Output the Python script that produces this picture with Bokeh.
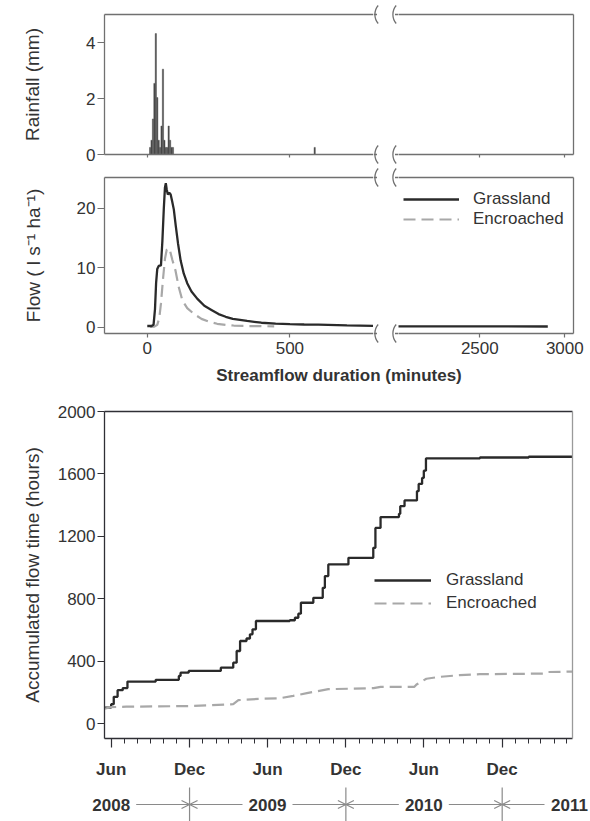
import numpy as np
from bokeh.plotting import figure
from bokeh.layouts import column, row
from bokeh.models import (Range1d, LinearAxis, DatetimeAxis, FixedTicker, Legend, LegendItem,
                          DatetimeTickFormatter, Arrow, OpenHead)
from bokeh.embed import file_html
from bokeh.resources import INLINE
from bokeh.core.properties import value

# ---------------- data ----------------
rain_minutes = [10, 15, 20, 25, 30, 35, 40, 45, 50, 55, 60, 65, 70, 75, 80, 85, 90, 587]
rain_mm = [0.254, 0.508, 1.27, 2.54, 4.318, 2.032, 0.508, 0.254, 1.016, 3.048, 0.508,
           0.254, 0.254, 1.016, 0.508, 0.254, 0.254, 0.254]

grass_minutes = [0, 15, 22, 27, 31, 35, 40, 48, 53, 58, 62, 65, 68, 72, 77, 82, 87, 93, 100,
                 108, 117, 128, 140, 155, 175, 200, 225, 250, 275, 300, 350, 400, 450, 500,
                 550, 600, 700, 800, 2000, 2900]
grass_flow = [0.2, 0.2, 0.4, 3.0, 7.5, 9.8, 10.3, 10.4, 14.5, 20.0, 23.5, 24.2, 23.2, 22.3,
              22.6, 22.3, 21.2, 19.8, 17.0, 14.0, 11.2, 9.0, 7.4, 6.0, 4.8, 3.6, 2.9, 2.2,
              1.75, 1.4, 1.05, 0.75, 0.6, 0.5, 0.45, 0.42, 0.3, 0.2, 0.15, 0.12]

enc_minutes = [10, 25, 35, 42, 48, 55, 62, 68, 74, 80, 88, 99, 110, 123, 140, 163, 190, 215,
               245, 275, 303, 350, 400, 445]
enc_flow = [0.05, 0.1, 0.4, 1.5, 4.0, 8.0, 11.5, 13.0, 13.3, 12.8, 11.3, 9.5, 6.8, 4.5, 3.2,
            2.25, 1.4, 0.95, 0.57, 0.4, 0.28, 0.2, 0.17, 0.15]

grass_dates = ["2008-05-16", "2008-06-01", "2008-06-07", "2008-06-16", "2008-06-28",
               "2008-07-09", "2008-09-13", "2008-11-06", "2008-11-10", "2008-11-29",
               "2009-02-12", "2009-03-13", "2009-03-21", "2009-03-29", "2009-04-13",
               "2009-04-21", "2009-04-27", "2009-05-05", "2009-07-23", "2009-08-04",
               "2009-08-12", "2009-08-18", "2009-09-16", "2009-10-08", "2009-10-13",
               "2009-10-21", "2009-12-07", "2010-02-03", "2010-02-08", "2010-02-20",
               "2010-04-04", "2010-04-07", "2010-04-17", "2010-05-16", "2010-05-20",
               "2010-05-28", "2010-06-01", "2010-06-06", "2010-10-10", "2011-02-01",
               "2011-05-14"]
grass_hours = [102, 124, 171, 214, 227, 269, 280, 305, 326, 337, 358, 390, 465, 529, 545,
               572, 604, 657, 662, 678, 704, 774, 806, 870, 945, 1020, 1062, 1126, 1254,
               1323, 1344, 1393, 1430, 1489, 1536, 1574, 1621, 1699, 1705, 1710, 1713]

enc_dates = ["2008-05-16", "2008-06-01", "2008-07-06", "2008-09-13", "2008-11-29",
             "2009-03-13", "2009-03-25", "2009-05-11", "2009-06-30", "2009-07-31",
             "2009-09-01", "2009-10-09", "2009-10-21", "2010-02-04", "2010-02-20",
             "2010-05-10", "2010-05-15", "2010-06-07", "2010-07-08", "2010-08-24",
             "2010-10-10", "2011-03-06", "2011-03-14", "2011-05-14"]
enc_hours = [95, 105, 108, 110, 112, 124, 150, 158, 162, 177, 195, 214, 220, 227, 235, 235,
             250, 287, 299, 310, 316, 320, 330, 333]

rain_ticks = [0, 2, 4]
flow_ticks = [0, 10, 20]
minute_ticks_left = [0, 500]
minute_ticks_right = [2500, 3000]
hour_ticks = [0, 400, 800, 1200, 1600, 2000]
major_month_dates = ["2008-06-01", "2008-12-01", "2009-06-01", "2009-12-01", "2010-06-01",
                     "2010-12-01"]
year_labels = ["2008", "2009", "2010", "2011"]
year_label_dates = ["2008-06-01", "2009-06-01", "2010-06-01", "2011-06-01"]
year_break_dates = ["2008-12-01", "2009-12-01", "2010-12-01"]

# ---------------- style / layout ----------------
FONT = "Liberation Sans"
TXT = "#333333"
AX_UP = "#707070"
AX_DARK = "#2f2f35"
AX_LIGHT = "#9a9a9a"
G_COL = "#2a2a2a"
E_COL = "#a8a8a8"
TICK_FS = "17px"
LAB_FS = "19px"

W = 590
LEFT = 104
RIGHT_END = 573
GAP_L, GAP_R = 373, 398
PXMIN_L = 142.6 / 500.0
PXMIN_R = 85.0 / 500.0
XL = (-150.0, -150.0 + (GAP_L - LEFT) / PXMIN_L)
XR0 = 2500 - (479.3 - GAP_R) / PXMIN_R
XR = (XR0, XR0 + (RIGHT_END - GAP_R) / PXMIN_R)


def ms(s):
    return float((np.datetime64(s, "ms") - np.datetime64("1970-01-01", "ms")) / np.timedelta64(1, "ms"))


def base_fig(width, height, xr, yr, left=0, right=0, top=0, bottom=0, x_type="linear"):
    p = figure(width=width, height=height, x_range=xr, y_range=yr, x_axis_type=x_type,
               x_axis_location=None, y_axis_location=None, title=None,
               output_backend="svg", toolbar_location=None, min_border=0,
               min_border_left=left, min_border_right=right,
               min_border_top=top, min_border_bottom=bottom)
    p.outline_line_color = None
    p.xgrid.visible = False
    p.ygrid.visible = False
    p.background_fill_color = "white"
    p.border_fill_color = "white"
    if hasattr(p, "frame_align"):
        p.frame_align = False
    return p


def style_axis(ax, color, tick_out=6, standoff=3, show_labels=True, bold=False, fs=TICK_FS):
    ax.axis_line_color = color
    ax.axis_line_width = 1.3
    ax.major_tick_line_color = color
    ax.major_tick_line_width = 1.2
    ax.major_tick_out = tick_out
    ax.major_tick_in = 0
    ax.minor_tick_line_color = None
    ax.minor_tick_out = 0
    ax.minor_tick_in = 0
    ax.major_label_text_font = FONT
    ax.major_label_text_color = TXT
    if bold:
        ax.major_label_text_font_style = "bold"
    if show_labels:
        ax.major_label_text_font_size = fs
        ax.major_label_standoff = standoff
    else:
        ax.major_label_text_font_size = "0px"
        ax.major_label_text_color = None
        ax.major_label_standoff = 0
    ax.axis_label_text_font = FONT
    ax.axis_label_text_font_size = LAB_FS
    ax.axis_label_text_font_style = "normal"
    ax.axis_label_text_color = TXT
    return ax


def bare_axis(color):
    ax = LinearAxis(ticker=FixedTicker(ticks=[]))
    style_axis(ax, color, tick_out=0, show_labels=False)
    ax.major_tick_line_color = None
    return ax


def gap_fig(height, ys):
    gw = GAP_R - GAP_L
    g = base_fig(gw, height, Range1d(0, gw), Range1d(height, 0))
    cl, cr = 3.5, gw - 3.5
    for y in ys:
        g.segment(x0=[0, cr], y0=[y, y], x1=[cl, gw], y1=[y, y],
                  line_color=AX_UP, line_width=1.3)
        for c in (cl, cr):
            g.bezier(x0=[c + 1.2], y0=[y - 9], x1=[c + 1.2], y1=[y + 9],
                     cx0=[c - 3.2], cy0=[y - 4], cx1=[c - 3.2], cy1=[y + 4],
                     line_color=AX_UP, line_width=1.3)
    return g


# ---------------- top panel: rainfall ----------------
H1, T1, B1 = 165, 14, 11
r_yr = Range1d(0, 5)
L1 = base_fig(GAP_L, H1, Range1d(*XL), r_yr, left=LEFT, top=T1, bottom=B1)
ya = style_axis(LinearAxis(ticker=FixedTicker(ticks=rain_ticks), axis_label="Rainfall (mm)"),
                AX_UP, tick_out=7, standoff=2)
ya.axis_label_standoff = 40
L1.add_layout(ya, "left")
L1.add_layout(style_axis(LinearAxis(ticker=FixedTicker(ticks=minute_ticks_left)), AX_UP,
                         tick_out=3, show_labels=False), "below")
L1.add_layout(bare_axis(AX_UP), "above")
L1.vbar(x=rain_minutes, top=rain_mm, width=4.4, bottom=0, fill_color="#3d3d3d",
        line_color="#5a5a5a", line_width=0.5)

R1 = base_fig(W - GAP_R, H1, Range1d(*XR), r_yr, right=W - RIGHT_END, top=T1, bottom=B1)
R1.add_layout(style_axis(LinearAxis(ticker=FixedTicker(ticks=minute_ticks_right)), AX_UP,
                         tick_out=3, show_labels=False), "below")
R1.add_layout(bare_axis(AX_UP), "above")
R1.add_layout(bare_axis(AX_UP), "right")

G1 = gap_fig(H1, [T1, H1 - B1])

# ---------------- middle panel: flow ----------------
H2, T2, B2 = 200, 12, 32
f_yr = Range1d(-1.06, 25.16)
L2 = base_fig(GAP_L, H2, Range1d(*XL), f_yr, left=LEFT, top=T2, bottom=B2)
ya2 = style_axis(LinearAxis(ticker=FixedTicker(ticks=flow_ticks),
                            axis_label="Flow ( l s\u207b\u00b9 ha\u207b\u00b9)"),
                 AX_UP, tick_out=7, standoff=2)
ya2.axis_label_standoff = 30
L2.add_layout(ya2, "left")
L2.add_layout(style_axis(LinearAxis(ticker=FixedTicker(ticks=minute_ticks_left)), AX_UP,
                         tick_out=4, standoff=4), "below")
L2.add_layout(bare_axis(AX_UP), "above")

R2 = base_fig(W - GAP_R, H2, Range1d(*XR), f_yr, right=W - RIGHT_END, top=T2, bottom=B2)
R2.add_layout(style_axis(LinearAxis(ticker=FixedTicker(ticks=minute_ticks_right)), AX_UP,
                         tick_out=4, standoff=4), "below")
R2.add_layout(bare_axis(AX_UP), "above")
R2.add_layout(bare_axis(AX_UP), "right")

for fig in (L2, R2):
    fig.line(enc_minutes, enc_flow, line_color=E_COL, line_width=2.2, line_dash="12 6")
    fig.line(grass_minutes, grass_flow, line_color=G_COL, line_width=2.3)
gl = R2.renderers[-1]
el = R2.renderers[-2]


def style_legend(lg, gw, standoff, spacing):
    lg.label_text_font = FONT
    lg.label_text_font_size = TICK_FS
    lg.label_text_color = TXT
    lg.glyph_width = gw
    lg.glyph_height = 20
    lg.label_height = 20
    lg.label_standoff = standoff
    lg.spacing = spacing
    lg.padding = 0
    lg.margin = 0
    lg.border_line_color = None
    lg.background_fill_alpha = 0


leg2 = Legend(items=[LegendItem(label="Grassland", renderers=[gl]),
                     LegendItem(label="Encroached", renderers=[el])],
              location=(5, 104), orientation="vertical")
style_legend(leg2, 56, 14, 0)
R2.add_layout(leg2)

G2 = gap_fig(H2, [T2, H2 - B2])

# x-axis title strip spanning both segments
H3 = 20
S = base_fig(W, H3, Range1d(0, W), Range1d(0, H3))
S.text(x=[(LEFT + RIGHT_END) / 2.0], y=[H3 / 2.0], text=["Streamflow duration (minutes)"],
       text_font=value(FONT), text_font_size="17px", text_font_style="bold",
       text_color=TXT, text_align="center", text_baseline="middle")

# ---------------- bottom panel: accumulated flow time ----------------
H4, T4, B4 = 398, 26, 45
d_start = ms("2008-06-01") - 15.6 * 86400000.0
FW4 = RIGHT_END - 1 - LEFT
d_end = d_start + FW4 / 0.42826 * 86400000.0
P = base_fig(W, H4, Range1d(d_start, d_end), Range1d(-96, 2000), left=LEFT,
             right=W - RIGHT_END + 1, top=T4, bottom=B4, x_type="datetime")
ya4 = style_axis(LinearAxis(ticker=FixedTicker(ticks=hour_ticks),
                            axis_label="Accumulated flow time (hours)"),
                 AX_DARK, tick_out=7, standoff=2)
ya4.axis_label_standoff = 12
P.add_layout(ya4, "left")

minor_dates = np.arange(np.datetime64("2008-06"), np.datetime64("2011-06"), np.timedelta64(1, "M"))
minor_ms = [ms(str(d) + "-01") for d in minor_dates]
xa4 = DatetimeAxis(ticker=FixedTicker(ticks=[ms(d) for d in major_month_dates], minor_ticks=minor_ms),
                   formatter=DatetimeTickFormatter(days="%b", months="%b", years="%b"))
style_axis(xa4, AX_DARK, tick_out=9, standoff=12, bold=True)
xa4.minor_tick_line_color = AX_DARK
xa4.minor_tick_out = 5
P.add_layout(xa4, "below")
P.add_layout(bare_axis(AX_DARK), "above")
P.add_layout(bare_axis(AX_LIGHT), "right")

g4 = P.step([np.datetime64(d) for d in grass_dates], grass_hours, mode="after",
            line_color=G_COL, line_width=2.3)
e4 = P.line([np.datetime64(d) for d in enc_dates], enc_hours, line_color=E_COL,
            line_width=2.2, line_dash="12 6")
leg4 = Legend(items=[LegendItem(label="Grassland", renderers=[g4]),
                     LegendItem(label="Encroached", renderers=[e4])],
              location=(270, 125), orientation="vertical")
style_legend(leg4, 57, 15, 3)
P.add_layout(leg4)

# ---------------- year strip ----------------
H5 = 38
ms_per_px = (d_end - d_start) / FW4
y_start = d_start - LEFT * ms_per_px
y_end = d_end + (W - RIGHT_END + 1) * ms_per_px
Y = base_fig(W, H5, Range1d(y_start, y_end), Range1d(H5, 0))
yl_ms = [ms(d) for d in year_label_dates]
# keep the last (partly off-range) year label fully inside the page
yl_ms[-1] = min(yl_ms[-1], y_end - 21 * ms_per_px)
yb_ms = [ms(d) for d in year_break_dates]
Y.text(x=yl_ms, y=[21] * len(yl_ms), text=year_labels, text_font=value(FONT),
       text_font_size="17px", text_font_style="bold", text_color=TXT,
       text_align="center", text_baseline="middle")
Y.segment(x0=yb_ms, y0=[4] * len(yb_ms), x1=yb_ms, y1=[H5] * len(yb_ms),
          line_color="#8a8a8a", line_width=1.2)
half = 25 * ms_per_px
for i, b in enumerate(yb_ms):
    for xs in (yl_ms[i] + half, yl_ms[i + 1] - half):
        Y.add_layout(Arrow(end=OpenHead(size=8, line_color="#8a8a8a", line_width=1.2),
                           x_start=xs, y_start=21, x_end=b, y_end=21,
                           line_color="#8a8a8a", line_width=1.2))

layout = column(row(L1, G1, R1), row(L2, G2, R2), S, P, Y)
open("out.html", "w").write(file_html(layout, INLINE))
